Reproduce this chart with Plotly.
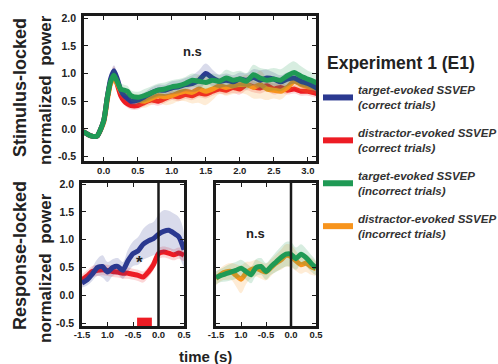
import plotly.graph_objects as go

# ---------------- data ----------------
t_stim = [-0.3, -0.2, -0.1, 0.0, 0.05, 0.1, 0.15, 0.2, 0.25, 0.3, 0.35, 0.4, 0.5, 0.6, 0.7, 0.8, 0.9,
          1.0, 1.1, 1.2, 1.3, 1.4, 1.5, 1.6, 1.7, 1.8, 1.9, 2.0, 2.1, 2.2, 2.3, 2.4, 2.5, 2.6, 2.7,
          2.8, 2.9, 3.0, 3.1, 3.15]
stim_target_correct = [-0.05, -0.12, -0.13, 0.15, 0.55, 0.9, 1.05, 0.9, 0.7, 0.6, 0.55, 0.5, 0.52, 0.58,
                       0.65, 0.7, 0.7, 0.74, 0.76, 0.8, 0.82, 0.88, 1.0, 0.92, 0.86, 0.88, 0.85, 0.9, 0.88,
                       0.93, 0.88, 0.92, 0.9, 0.85, 0.9, 0.92, 0.86, 0.82, 0.76, 0.72]
stim_target_correct_err = [0.02, 0.02, 0.03, 0.05, 0.08, 0.1, 0.1, 0.1, 0.08, 0.07, 0.07, 0.07, 0.08, 0.08,
                           0.1, 0.1, 0.1, 0.12, 0.12, 0.12, 0.15, 0.18, 0.18, 0.15, 0.12, 0.12, 0.12, 0.12,
                           0.12, 0.15, 0.18, 0.15, 0.12, 0.12, 0.12, 0.1, 0.1, 0.1, 0.1, 0.1]
stim_distr_correct = [-0.05, -0.12, -0.13, 0.15, 0.55, 0.85, 0.98, 0.8, 0.6, 0.5, 0.45, 0.42, 0.42, 0.48,
                      0.52, 0.5, 0.55, 0.6, 0.58, 0.62, 0.6, 0.65, 0.63, 0.68, 0.72, 0.7, 0.75, 0.72, 0.8,
                      0.76, 0.74, 0.78, 0.72, 0.75, 0.7, 0.72, 0.68, 0.68, 0.65, 0.63]
stim_distr_correct_err = [0.02, 0.02, 0.03, 0.05, 0.08, 0.12, 0.15, 0.12, 0.08, 0.07, 0.07, 0.07, 0.07, 0.07,
                          0.08, 0.08, 0.08, 0.08, 0.08, 0.08, 0.08, 0.08, 0.08, 0.08, 0.08, 0.08, 0.1, 0.1,
                          0.1, 0.1, 0.1, 0.1, 0.1, 0.1, 0.08, 0.08, 0.08, 0.08, 0.08, 0.08]
stim_target_incorrect = [-0.05, -0.12, -0.13, 0.15, 0.55, 0.85, 0.97, 0.85, 0.72, 0.7, 0.68, 0.6, 0.57, 0.6,
                         0.65, 0.7, 0.72, 0.76, 0.78, 0.82, 0.88, 0.86, 0.84, 0.88, 0.86, 0.92, 0.88, 0.9,
                         0.86, 0.98, 0.92, 0.88, 0.9, 0.88, 0.96, 1.02, 0.95, 0.9, 0.85, 0.82]
stim_target_incorrect_err = [0.02, 0.02, 0.03, 0.05, 0.08, 0.1, 0.1, 0.1, 0.1, 0.1, 0.1, 0.1, 0.1, 0.12,
                             0.12, 0.12, 0.12, 0.12, 0.12, 0.12, 0.12, 0.12, 0.12, 0.12, 0.12, 0.15, 0.15,
                             0.15, 0.15, 0.18, 0.18, 0.2, 0.2, 0.2, 0.2, 0.2, 0.18, 0.15, 0.15, 0.12]
stim_distr_incorrect = [-0.05, -0.12, -0.13, 0.12, 0.5, 0.82, 0.93, 0.82, 0.68, 0.62, 0.58, 0.55, 0.52, 0.5,
                        0.55, 0.6, 0.58, 0.6, 0.65, 0.68, 0.66, 0.72, 0.68, 0.72, 0.78, 0.75, 0.78, 0.8,
                        0.8, 0.75, 0.8, 0.72, 0.7, 0.68, 0.75, 0.86, 0.8, 0.76, 0.74, 0.74]
stim_distr_incorrect_err = [0.02, 0.02, 0.03, 0.05, 0.08, 0.1, 0.12, 0.1, 0.1, 0.1, 0.1, 0.1, 0.1, 0.12,
                            0.12, 0.12, 0.15, 0.15, 0.15, 0.18, 0.2, 0.25, 0.25, 0.2, 0.15, 0.15, 0.15, 0.15,
                            0.18, 0.2, 0.25, 0.2, 0.15, 0.15, 0.12, 0.12, 0.12, 0.12, 0.1, 0.1]

t_resp = [-1.5, -1.4, -1.3, -1.2, -1.1, -1.0, -0.9, -0.8, -0.7, -0.6, -0.5, -0.4, -0.3, -0.2, -0.1,
          0.0, 0.1, 0.2, 0.3, 0.4, 0.5]
resp_target_correct = [0.22, 0.28, 0.38, 0.5, 0.52, 0.42, 0.5, 0.52, 0.45, 0.62, 0.75, 0.8, 0.92, 0.98,
                       1.02, 1.1, 1.15, 1.17, 1.12, 1.05, 0.82]
resp_target_correct_err = [0.08, 0.1, 0.12, 0.15, 0.2, 0.18, 0.15, 0.15, 0.15, 0.2, 0.22, 0.25, 0.28,
                           0.3, 0.3, 0.35, 0.38, 0.35, 0.35, 0.35, 0.3]
resp_distr_correct = [0.28, 0.35, 0.43, 0.45, 0.46, 0.45, 0.43, 0.42, 0.4, 0.4, 0.38, 0.36, 0.33, 0.42,
                      0.55, 0.75, 0.78, 0.76, 0.73, 0.76, 0.72]
resp_distr_correct_err = [0.1] * 21
resp_target_incorrect = [0.32, 0.36, 0.39, 0.42, 0.45, 0.49, 0.43, 0.37, 0.5, 0.52, 0.43, 0.52, 0.6, 0.68,
                         0.74, 0.74, 0.66, 0.74, 0.68, 0.58, 0.49]
resp_target_incorrect_err = [0.12, 0.12, 0.14, 0.15, 0.15, 0.15, 0.15, 0.15, 0.15, 0.15, 0.15, 0.15, 0.18,
                             0.2, 0.22, 0.22, 0.2, 0.18, 0.16, 0.15, 0.12]
resp_distr_incorrect = [0.3, 0.38, 0.42, 0.43, 0.36, 0.29, 0.4, 0.46, 0.49, 0.45, 0.42, 0.5, 0.58, 0.64,
                        0.72, 0.7, 0.62, 0.55, 0.58, 0.52, 0.48]
resp_distr_incorrect_err = [0.12, 0.12, 0.14, 0.15, 0.2, 0.25, 0.2, 0.15, 0.15, 0.15, 0.15, 0.15, 0.15,
                            0.18, 0.2, 0.2, 0.18, 0.16, 0.16, 0.15, 0.12]

sig_window = [-0.42, -0.13]          # significant cluster (red bar)
sig_bar_y = [-0.57, -0.4]

stim_xticks = [0.0, 0.5, 1.0, 1.5, 2.0, 2.5, 3.0]
stim_xticklabels = ["0.0", "0.5", "1.0", "1.5", "2.0", "2.5", "3.0"]
resp_xticks = [-1.5, -1.0, -0.5, 0.0, 0.5]
resp_xticklabels = ["-1.5", "1.0", "-0.5", "0.0", "0.5"]
yticks = [-0.5, 0.0, 0.5, 1.0, 1.5, 2.0]
yticklabels = ["-0.5", "0.0", "0.5", "1.0", "1.5", "2.0"]

legend_title = "Experiment 1 (E1)"
legend_names = ["target-evoked SSVEP<br>(correct trials)",
                "distractor-evoked SSVEP<br>(correct trials)",
                "target-evoked SSVEP<br>(incorrect trials)",
                "distractor-evoked SSVEP<br>(incorrect trials)"]

# ---------------- style ----------------
BLUE = "#2b3990"
RED = "#ed1c24"
GREEN = "#1f9a55"
ORANGE = "#f7941d"
FONT = "Liberation Sans, Arial, sans-serif"
TXT = "#222222"


def rgba(hexc, a):
    h = hexc.lstrip("#")
    return "rgba(%d,%d,%d,%s)" % (int(h[0:2], 16), int(h[2:4], 16), int(h[4:6], 16), a)


fig = go.Figure()


def add_series(x, y, err, color, xa, ya):
    up = [a + e for a, e in zip(y, err)]
    lo = [a - e for a, e in zip(y, err)]
    fig.add_trace(go.Scatter(x=list(x) + list(x)[::-1], y=up + lo[::-1], fill="toself",
                             fillcolor=rgba(color, 0.18), line=dict(width=0, shape="spline"),
                             mode="lines", hoverinfo="skip", showlegend=False, xaxis=xa, yaxis=ya))
    fig.add_trace(go.Scatter(x=x, y=y, mode="lines",
                             line=dict(color=color, width=5, shape="spline", smoothing=0.6),
                             showlegend=False, xaxis=xa, yaxis=ya))


# top panel (stimulus-locked)
add_series(t_stim, stim_distr_correct, stim_distr_correct_err, RED, "x", "y")
add_series(t_stim, stim_distr_incorrect, stim_distr_incorrect_err, ORANGE, "x", "y")
add_series(t_stim, stim_target_correct, stim_target_correct_err, BLUE, "x", "y")
add_series(t_stim, stim_target_incorrect, stim_target_incorrect_err, GREEN, "x", "y")

# bottom-left (response-locked, correct)
add_series(t_resp, resp_distr_correct, resp_distr_correct_err, RED, "x2", "y2")
add_series(t_resp, resp_target_correct, resp_target_correct_err, BLUE, "x2", "y2")

# bottom-right (response-locked, incorrect)
add_series(t_resp, resp_distr_incorrect, resp_distr_incorrect_err, ORANGE, "x3", "y3")
add_series(t_resp, resp_target_incorrect, resp_target_incorrect_err, GREEN, "x3", "y3")

# legend entries (in legend order)
for nm, col, g in zip(legend_names, [BLUE, RED, GREEN, ORANGE], ["a", "b", "c", "d"]):
    fig.add_trace(go.Scatter(x=[None], y=[None], mode="lines", line=dict(color=col, width=6),
                             name="<b><i>" + nm + "</i></b>", showlegend=True, legendgroup=g,
                             xaxis="x", yaxis="y"))

W, H = 498, 364


def dx(a, b):
    return [a / W, b / W]


def dy(top, bot):
    return [1 - bot / H, 1 - top / H]


def axis_common(std, fs):
    return dict(showline=True, linewidth=2.5, linecolor="#1a1a1a", mirror="allticks",
                ticks="inside", ticklen=4, tickwidth=1.2, tickcolor="#1a1a1a",
                showgrid=False, zeroline=False, ticklabelstandoff=std, automargin=False,
                tickfont=dict(family=FONT, size=fs, color=TXT, weight="bold"))


fig.update_layout(
    width=W, height=H, margin=dict(l=0, r=0, t=0, b=0, autoexpand=False),
    paper_bgcolor="white", plot_bgcolor="white",
    font=dict(family=FONT, color=TXT),
    xaxis=dict(domain=dx(84, 316), range=[-0.29, 3.12], tickvals=stim_xticks,
               ticktext=stim_xticklabels, anchor="y", **axis_common(-1, 9.5)),
    yaxis=dict(domain=dy(16, 161), range=[-0.58, 2.04], tickvals=yticks, ticktext=yticklabels,
               anchor="x", **axis_common(3, 10.5)),
    xaxis2=dict(domain=dx(82, 184), range=[-1.5, 0.5], tickvals=resp_xticks,
                ticktext=resp_xticklabels, anchor="y2", **axis_common(-2, 9.5)),
    yaxis2=dict(domain=dy(183, 326), range=[-0.55, 2.02], tickvals=yticks, ticktext=yticklabels,
                anchor="x2", **axis_common(3, 10.5)),
    xaxis3=dict(domain=dx(216, 316), range=[-1.5, 0.5], tickvals=resp_xticks,
                ticktext=resp_xticklabels, anchor="y3", **axis_common(-2, 9.5)),
    yaxis3=dict(domain=dy(183, 326), range=[-0.55, 2.02], tickvals=yticks, showticklabels=False,
                anchor="x3", **axis_common(3, 10.5)),
    showlegend=True,
    legend=dict(x=318 / W, y=1 - 76 / H, xanchor="left", yanchor="top",
                bgcolor="rgba(0,0,0,0)", borderwidth=0, tracegroupgap=10,
                itemwidth=30, traceorder="grouped",
                font=dict(family=FONT, size=11.5, color="#333")),
)

# response lines at t=0
for xa, ya in [("x2", "y2"), ("x3", "y3")]:
    fig.add_shape(type="line", xref=xa, yref=ya + " domain", x0=0, x1=0, y0=0, y1=1,
                  line=dict(color="#1a1a1a", width=2.5))

# significance bar
fig.add_shape(type="rect", xref="x2", yref="y2", x0=sig_window[0], x1=sig_window[1],
              y0=sig_bar_y[0], y1=sig_bar_y[1], fillcolor=RED, line=dict(width=0))

ann = []
ann.append(dict(text="<b>n.s</b>", x=1.3, y=1.39, xref="x", yref="y", showarrow=False,
                yanchor="middle", font=dict(family=FONT, size=13, color=TXT)))
ann.append(dict(text="<b>n.s</b>", x=-0.72, y=1.12, xref="x3", yref="y3", showarrow=False,
                yanchor="middle", font=dict(family=FONT, size=13, color=TXT)))
ann.append(dict(text="<b>*</b>", x=-0.37, y=0.6, xref="x2", yref="y2", showarrow=False,
                yanchor="middle", font=dict(family=FONT, size=17, color=TXT)))
for txt, xp, yp, fs in [("Stimulus-locked", 20, 88, 18), ("normalized  power", 45, 90, 17),
                        ("Response-locked", 20, 256, 18), ("normalized  power", 45, 268, 17)]:
    ann.append(dict(text="<b>" + txt + "</b>", x=xp / W, y=1 - yp / H, xref="paper", yref="paper",
                    showarrow=False, textangle=-90, xanchor="center", yanchor="middle",
                    font=dict(family=FONT, size=fs, color=TXT)))
ann.append(dict(text="<b>time (s)</b>", x=205 / W, y=1 - 356 / H, xref="paper", yref="paper",
                showarrow=False, xanchor="center", yanchor="middle",
                font=dict(family=FONT, size=15, color=TXT)))
ann.append(dict(text="<b>" + legend_title + "</b>", x=325 / W, y=1 - 63 / H, xref="paper",
                yref="paper", showarrow=False, xanchor="left", yanchor="middle",
                font=dict(family=FONT, size=17.5, color=TXT)))
fig.update_layout(annotations=ann)

fig.write_html("out.html")
